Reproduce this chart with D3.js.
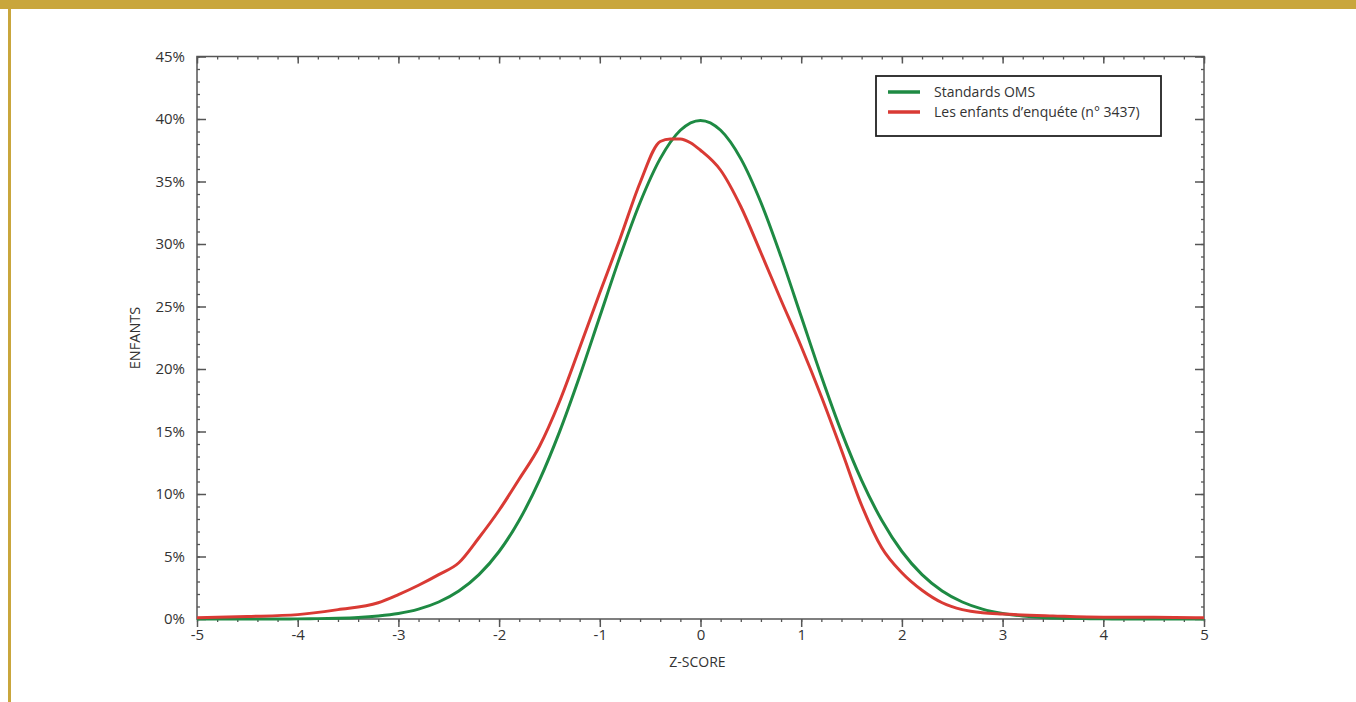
<!DOCTYPE html>
<html><head><meta charset="utf-8">
<script src="https://cdn.jsdelivr.net/npm/d3@7/dist/d3.min.js"></script>
<style>
html,body{margin:0;padding:0;background:#fff;}
svg{display:block;}
text{font-family:"Open Sans","Noto Sans",sans-serif;fill:#333;}
</style></head>
<body>
<svg id="chart" width="1356" height="702"></svg>
<script>
// Z-score grid
const zScores = [-5,-4.8,-4.6,-4.4,-4.2,-4,-3.8,-3.6,-3.4,-3.2,-3,-2.8,-2.6,-2.4,-2.2,-2,-1.8,-1.6,-1.4,-1.2,-1,-0.8,-0.6,-0.4,-0.2,0,0.2,0.4,0.6,0.8,1,1.2,1.4,1.6,1.8,2,2.2,2.4,2.6,2.8,3,3.2,3.4,3.6,3.8,4,4.2,4.4,4.6,4.8,5];
// Standards OMS (% of children)
const whoValues = [0,0,0,0,0,0.01,0.03,0.06,0.12,0.24,0.44,0.79,1.36,2.24,3.55,5.4,7.9,11.09,14.97,19.42,24.2,28.97,33.32,36.83,39.1,39.89,39.1,36.83,33.32,28.97,24.2,19.42,14.97,11.09,7.9,5.4,3.55,2.24,1.36,0.79,0.44,0.24,0.12,0.06,0.03,0.01,0,0,0,0,0];
// Les enfants d'enquête (n° 3437)
const surveyZ = [-5,-4.5,-4,-3.6,-3.2,-3,-2.8,-2.6,-2.4,-2.2,-2,-1.8,-1.6,-1.4,-1.2,-1,-0.8,-0.6,-0.4,-0.3,-0.2,-0.1,0,0.2,0.4,0.6,0.8,1,1.2,1.4,1.6,1.8,2,2.2,2.4,2.6,2.8,3,3.5,4,4.5,5];
const surveyValues = [0.1,0.2,0.35,0.75,1.3,1.95,2.7,3.55,4.5,6.5,8.7,11.2,13.8,17.4,21.7,26.1,30.4,34.9,38.2,38.4,38.4,38.1,37.5,35.9,33.0,29.3,25.5,21.8,17.8,13.5,9.1,5.7,3.7,2.3,1.3,0.75,0.5,0.4,0.25,0.15,0.15,0.1];
const xTicks = [-5,-4,-3,-2,-1,0,1,2,3,4,5];
const yTicks = [0,5,10,15,20,25,30,35,40,45];
const seriesNames = ["Standards OMS","Les enfants d\u2019enquéte (n° 3437)"];
const seriesColors = ["#1e8a43","#d93a34"];

(function(){
const svg = d3.select("#chart");
// decorative gold frame
svg.append("rect").attr("x",0).attr("y",0).attr("width",1356).attr("height",9).attr("fill","#c9a63c");
svg.append("rect").attr("x",8).attr("y",9).attr("width",3).attr("height",693).attr("fill","#c9a63c");

const L=197,R=1204,T=56.5,B=619;
const x = d3.scaleLinear().domain([-5,5]).range([L,R]);
const y = d3.scaleLinear().domain([0,45]).range([B,T]);

const axisColor="#555";
const g = svg.append("g");
// frame
g.append("rect").attr("x",L).attr("y",T).attr("width",R-L).attr("height",B-T)
 .attr("fill","none").attr("stroke",axisColor).attr("stroke-width",1.5);

const xMinor = d3.range(-5,5.001,0.2).map(v=>+v.toFixed(1));
const yMinor = d3.range(0,45.001,1);

function styleAxis(sel, w){
  sel.attr("font-size",null).attr("font-family",null);
  sel.select(".domain").remove();
  sel.selectAll("line").attr("stroke",axisColor).attr("stroke-width",w);
  sel.selectAll("text").style("font-size","15px").style("fill","#333").style("font-family","'Open Sans',sans-serif");
}

// bottom axis: ticks downward
styleAxis(g.append("g").attr("transform",`translate(0,${B})`)
  .call(d3.axisBottom(x).tickValues(xMinor).tickSize(3).tickFormat("")),1.3);
styleAxis(g.append("g").attr("transform",`translate(0,${B})`)
  .call(d3.axisBottom(x).tickValues(xTicks).tickSize(8).tickPadding(2).tickFormat(d=>String(d))),1.5);

// top axis: ticks inward (down)
styleAxis(g.append("g").attr("transform",`translate(0,${T})`)
  .call(d3.axisBottom(x).tickValues(xMinor).tickSize(3).tickFormat("")),1.3);
styleAxis(g.append("g").attr("transform",`translate(0,${T})`)
  .call(d3.axisBottom(x).tickValues(xTicks).tickSize(7).tickFormat("")),1.5);

// left axis: ticks inward (right)
styleAxis(g.append("g").attr("transform",`translate(${L},0)`)
  .call(d3.axisRight(y).tickValues(yMinor).tickSize(3).tickFormat("")),1.3);
styleAxis(g.append("g").attr("transform",`translate(${L},0)`)
  .call(d3.axisRight(y).tickValues(yTicks).tickSize(9).tickFormat("")),1.5);
styleAxis(g.append("g").attr("transform",`translate(${L},0)`)
  .call(d3.axisLeft(y).tickValues(yTicks).tickSize(0).tickPadding(12).tickFormat(d=>d+"%")),1.5);

// right axis: ticks inward (left)
styleAxis(g.append("g").attr("transform",`translate(${R},0)`)
  .call(d3.axisLeft(y).tickValues(yMinor).tickSize(3).tickFormat("")),1.3);
styleAxis(g.append("g").attr("transform",`translate(${R},0)`)
  .call(d3.axisLeft(y).tickValues(yTicks).tickSize(9).tickFormat("")),1.5);

// axis titles
svg.append("text").attr("x",(L+R)/2-3).attr("y",667).attr("text-anchor","middle")
  .attr("font-size",14).text("Z-SCORE");
svg.append("text").attr("transform","translate(140,338) rotate(-90)").attr("text-anchor","middle")
  .attr("font-size",14.5).text("ENFANTS");

// curves
const whoData = zScores.map((z,i)=>({z,v:whoValues[i]}));
const surveyData = surveyZ.map((z,i)=>({z,v:surveyValues[i]}));
const lineSmooth = d3.line().x(d=>x(d.z)).y(d=>y(d.v)).curve(d3.curveMonotoneX);
g.append("path").datum(whoData).attr("d",lineSmooth).attr("fill","none")
  .attr("stroke",seriesColors[0]).attr("stroke-width",3).attr("stroke-linejoin","round");
g.append("path").datum(surveyData).attr("d",lineSmooth).attr("fill","none")
  .attr("stroke",seriesColors[1]).attr("stroke-width",3).attr("stroke-linejoin","round");

// legend
const lg = svg.append("g");
lg.append("rect").attr("x",876).attr("y",76).attr("width",285).attr("height",60)
  .attr("fill","#fff").attr("stroke","#222").attr("stroke-width",1.8);
seriesNames.forEach((n,i)=>{
  const yy = 92 + i*20;
  lg.append("line").attr("x1",888).attr("x2",920).attr("y1",yy).attr("y2",yy)
    .attr("stroke",seriesColors[i]).attr("stroke-width",3.5);
  lg.append("text").attr("x",934).attr("y",yy+5).attr("font-size",14).attr("fill","#222").text(n);
});
})();
</script>
</body></html>
